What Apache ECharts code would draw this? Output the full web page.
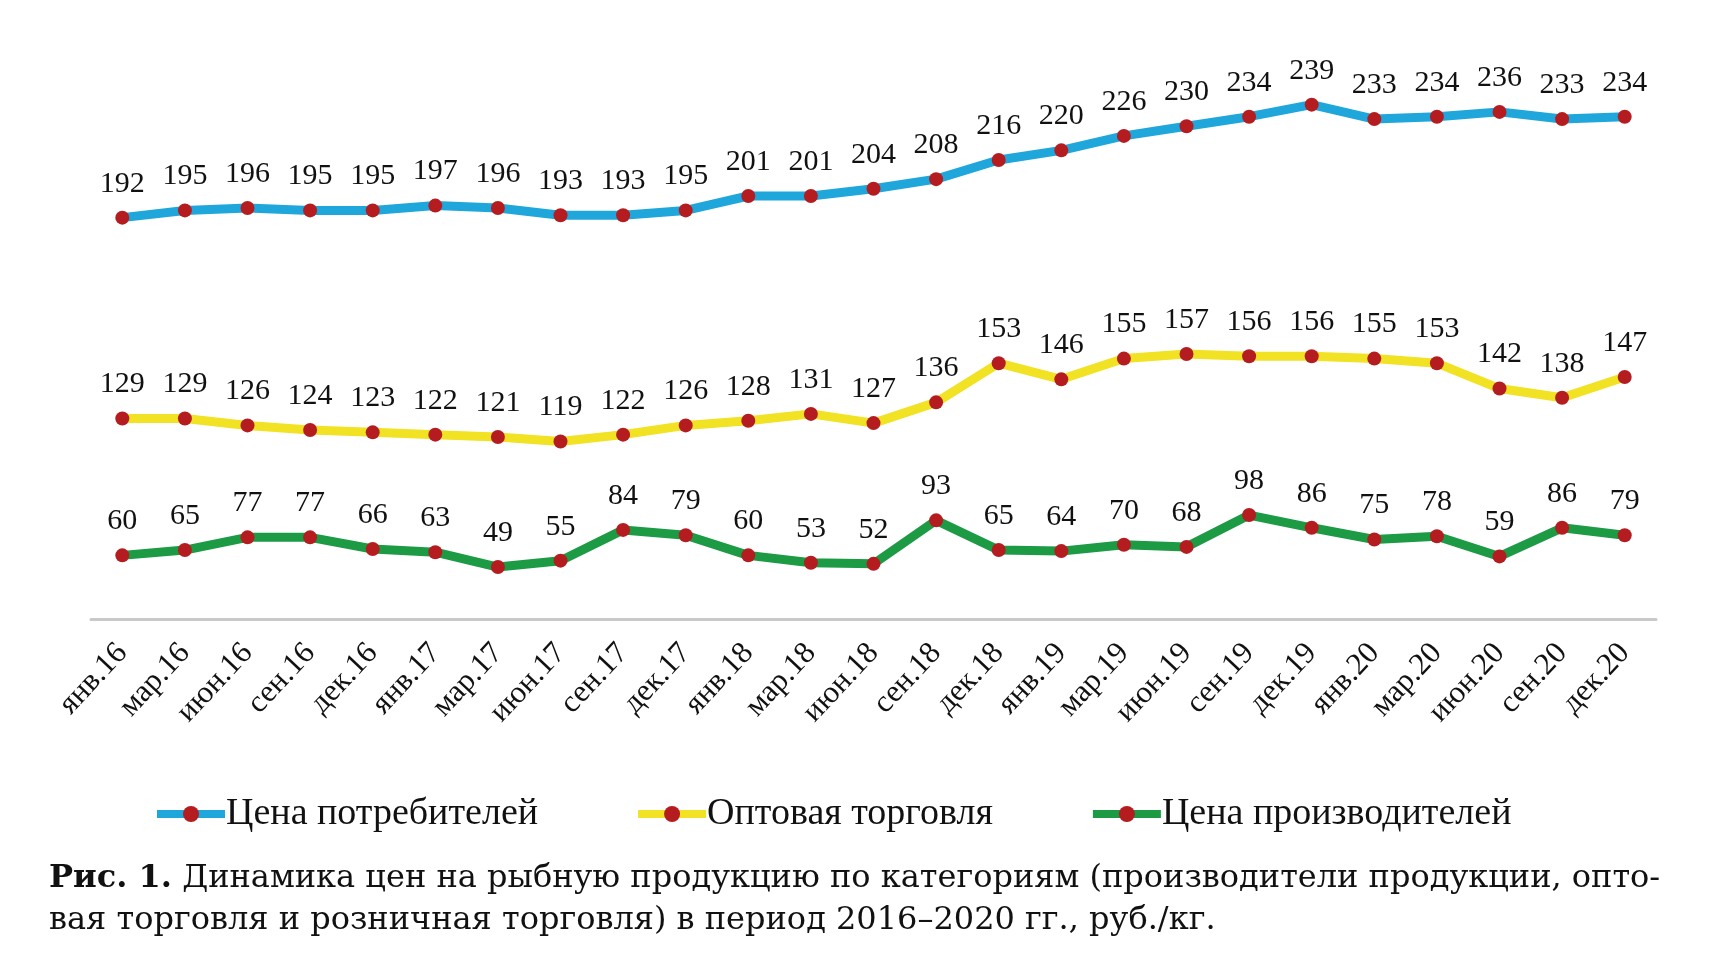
<!DOCTYPE html>
<html>
<head>
<meta charset="utf-8">
<script src="https://cdn.jsdelivr.net/npm/echarts@6/dist/echarts.min.js"></script>
<style>
  html, body { margin: 0; padding: 0; background: #fff; }
  #chart { width: 1717px; height: 971px; }
</style>
</head>
<body>
<div id="chart"></div>
<script>
let categories = ['янв.16', 'мар.16', 'июн.16', 'сен.16', 'дек.16', 'янв.17', 'мар.17', 'июн.17', 'сен.17',
    'дек.17', 'янв.18', 'мар.18', 'июн.18', 'сен.18', 'дек.18', 'янв.19', 'мар.19', 'июн.19', 'сен.19',
    'дек.19', 'янв.20', 'мар.20', 'июн.20', 'сен.20', 'дек.20'];
let consumerPrice = [192, 195, 196, 195, 195, 197, 196, 193, 193, 195, 201, 201, 204, 208, 216, 220, 226, 230, 234, 239, 233, 234, 236, 233, 234];
let wholesalePrice = [129, 129, 126, 124, 123, 122, 121, 119, 122, 126, 128, 131, 127, 136, 153, 146, 155, 157, 156, 156, 155, 153, 142, 138, 147];
let producerPrice = [60, 65, 77, 77, 66, 63, 49, 55, 84, 79, 60, 53, 52, 93, 65, 64, 70, 68, 98, 86, 75, 78, 59, 86, 79];
let seriesNames = ['Цена потребителей', 'Оптовая торговля', 'Цена производителей'];

let serif = '"Liberation Serif", "Times New Roman", serif';
let markerColor = '#b51c1f';

let myChart = echarts.init(document.getElementById('chart'));

// каждая линия на своей скрытой оси, чтобы разнести их по полосам
function hiddenAxis(min, max) {
    return { type: 'value', min: min, max: max, show: false, splitLine: { show: false } };
}

function makeSeries(name, data, color, axisIndex) {
    return {
        name: name,
        type: 'line',
        yAxisIndex: axisIndex,
        data: data,
        symbol: 'circle',
        symbolSize: 14,
        lineStyle: { color: color, width: 9 },
        itemStyle: { color: markerColor, borderWidth: 0 },
        label: {
            show: true,
            position: 'top',
            distance: 12,
            color: '#111',
            fontFamily: serif,
            fontSize: 30
        },
        emphasis: { disabled: true },
        animation: false
    };
}

let option = {
    backgroundColor: '#fff',
    title: {
        left: 44,
        top: 853,
        text: '{b|Рис. 1.} Динамика цен на рыбную продукцию по категориям (производители продукции, опто-\nвая торговля и розничная торговля) в период 2016–2020 гг., руб./кг.',
        textStyle: {
            rich: {
                b: { fontFamily: '"DejaVu Serif", serif', fontSize: 32, fontWeight: 'bold', color: '#111', lineHeight: 42 }
            },
            fontFamily: '"DejaVu Serif", serif',
            fontSize: 32,
            fontWeight: 'normal',
            color: '#111',
            lineHeight: 42
        }
    },
    legend: {
        left: 148,
        top: 790,
        itemWidth: 68,
        itemHeight: 20,
        itemGap: 96,
        lineStyle: { width: 8 },
        textStyle: { fontFamily: serif, fontSize: 38, color: '#111', padding: [0, 0, 0, -4] },
        data: seriesNames
    },
    grid: {
        left: 91,
        right: 61,
        top: 59,
        bottom: 352
    },
    xAxis: {
        type: 'category',
        boundaryGap: true,
        data: categories,
        axisLine: { lineStyle: { color: '#c9c9c9', width: 3 } },
        axisTick: { show: false },
        axisLabel: {
            rotate: 47,
            margin: 29,
            interval: 0,
            color: '#111',
            fontFamily: serif,
            fontSize: 31
        }
    },
    yAxis: [
        hiddenAxis(25, 258),
        hiddenAxis(42, 285),
        hiddenAxis(0, 528)
    ],
    series: [
        makeSeries(seriesNames[0], consumerPrice, '#1fa7dc', 0),
        makeSeries(seriesNames[1], wholesalePrice, '#f1e224', 1),
        makeSeries(seriesNames[2], producerPrice, '#1c9a44', 2)
    ]
};

myChart.setOption(option);
</script>
</body>
</html>
